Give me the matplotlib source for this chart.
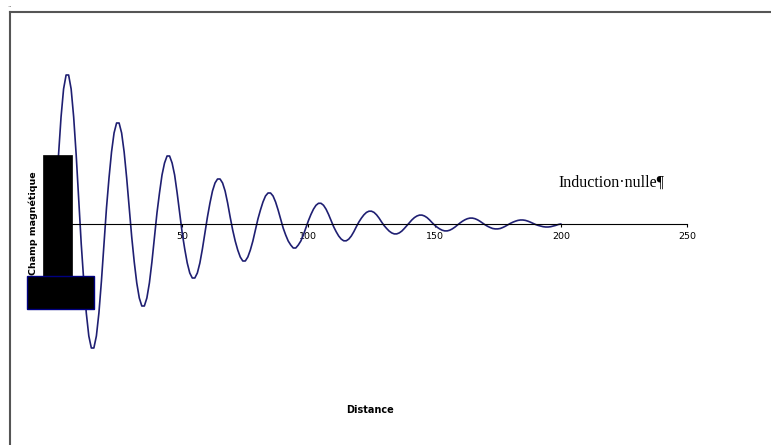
import matplotlib
matplotlib.use("Agg")
import matplotlib.pyplot as plt
from matplotlib.patches import Rectangle
from matplotlib.lines import Line2D

# distance samples (every unit) and magnetic field
distance = list(range(0, 201))
field = [
    24, 69, 107, 135, 149, 149, 135, 107, 69, 24,
    -20, -57, -89, -112, -124, -124, -112, -89, -57, -20,
    16, 46, 72, 91, 101, 101, 91, 72, 46, 16,
    -13, -38, -59, -74, -82, -82, -74, -59, -38, -13,
    11, 31, 49, 61, 68, 68, 61, 49, 31, 11,
    -9, -25, -39, -49, -54, -54, -49, -39, -25, -9,
    7, 21, 33, 41, 45, 45, 41, 33, 21, 7,
    -6, -17, -26, -33, -37, -37, -33, -26, -17, -6,
    5, 14, 22, 28, 31, 31, 28, 22, 14, 5,
    -4, -11, -17, -21, -24, -24, -21, -17, -11, -4,
    3.3, 9.5, 14.8, 18.7, 20.7, 20.7, 18.7, 14.8, 9.5, 3.3,
    -2.7, -7.7, -12.0, -15.1, -16.8, -16.8, -15.1, -12.0, -7.7, -2.7,
    2.0, 5.9, 9.2, 11.6, 12.8, 12.8, 11.6, 9.2, 5.9, 2.0,
    -1.6, -4.5, -7.1, -8.9, -9.9, -9.9, -8.9, -7.1, -4.5, -1.6,
    1.4, 4.1, 6.4, 8.0, 8.9, 8.9, 8.0, 6.4, 4.1, 1.4,
    -1.1, -3.2, -4.9, -6.2, -6.9, -6.9, -6.2, -4.9, -3.2, -1.1,
    0.9, 2.7, 4.2, 5.3, 5.9, 5.9, 5.3, 4.2, 2.7, 0.9,
    -0.8, -2.3, -3.5, -4.5, -4.9, -4.9, -4.5, -3.5, -2.3, -0.8,
    0.6, 1.8, 2.8, 3.6, 4.0, 4.0, 3.6, 2.8, 1.8, 0.6,
    -0.5, -1.4, -2.1, -2.7, -3.0, -3.0, -2.7, -2.1, -1.4, -0.5,
    0,
]
x_ticks = [50, 100, 150, 200, 250]

W, H = 771, 445


def fx(px):
    return px / W


def fy(py):
    return 1 - py / H


fig = plt.figure(figsize=(W / 100, H / 100), dpi=100)
ax = fig.add_axes([fx(56), fy(420), fx(687) - fx(56), (420 - 30) / H])

ax.plot(distance, field, color="#1f1f72", linewidth=1.2)
ax.set_xlim(0, 250)
ax.set_ylim(-196, 194)

for side in ("top", "right", "left"):
    ax.spines[side].set_visible(False)
ax.spines["bottom"].set_position(("data", 0))
ax.spines["bottom"].set_linewidth(0.8)
ax.set_yticks([])
ax.set_xticks(x_ticks)
ax.set_xticklabels([str(t) for t in x_ticks], fontsize=6.8)
ax.tick_params(axis="x", length=2, width=0.8, pad=4)
ax.patch.set_visible(False)

# outer frame (only left and top edges are visible)
fig.add_artist(Line2D([fx(10), fx(10)], [fy(12), 0], color="#555555", lw=1.5))
fig.add_artist(Line2D([fx(10), 1], [fy(12), fy(12)], color="#555555", lw=1.5))
fig.text(fx(7), fy(8), "..", fontsize=5, color="#666666", va="bottom")

# magnet shapes
fig.add_artist(Rectangle((fx(43), fy(276)), fx(72) - fx(43), (276 - 155) / H,
                         transform=fig.transFigure, facecolor="black",
                         edgecolor="black", lw=0.5, zorder=5))
fig.add_artist(Rectangle((fx(27), fy(309)), fx(94) - fx(27), (309 - 276) / H,
                         transform=fig.transFigure, facecolor="black",
                         edgecolor="#000080", lw=1, zorder=5))

fig.text(fx(33), fy(223), "Champ magnétique", rotation=90, fontsize=6.8,
         fontweight="bold", ha="center", va="center")
fig.text(fx(370), fy(410), "Distance", fontsize=7, fontweight="bold",
         ha="center", va="center")
fig.text(fx(558), fy(187), "Induction\u00b7nulle\u00b6", fontsize=11.5,
         family="Liberation Serif", ha="left", va="baseline")

fig.savefig("out.png", dpi=100)
